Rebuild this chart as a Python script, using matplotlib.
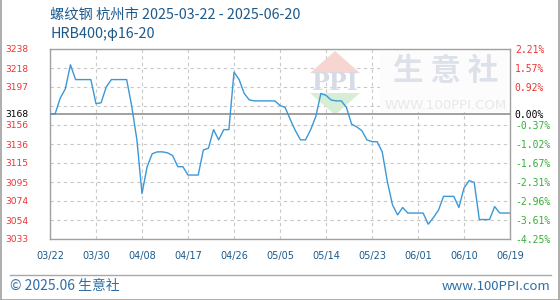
import matplotlib.pyplot as plt
from matplotlib.patches import Polygon, Rectangle
from matplotlib.lines import Line2D

W, H = 560, 300

# 数据: 距 03/22 的天数 与 价格
days = [0, 1, 2, 3, 4, 5, 6, 7, 8, 9, 10, 11, 12, 13, 14, 15, 16, 17, 18, 19,
        20, 21, 22, 23, 24, 25, 26, 27, 28, 29, 30, 31, 32, 33, 34, 35, 36, 37, 38, 39,
        40, 41, 42, 43, 44, 45, 46, 47, 48, 49, 50, 51, 52, 53, 54, 55, 56, 57, 58, 59,
        60, 61, 62, 63, 64, 65, 66, 67, 68, 69, 70, 71, 72, 73, 74, 75, 76, 77, 78, 79,
        80, 81, 82, 83, 84, 85, 86, 87, 88, 89, 90]
prices = [3168, 3168, 3185, 3195, 3221, 3205, 3205, 3205, 3205, 3179, 3180, 3197, 3205, 3205, 3205, 3205, 3176, 3140, 3082, 3111,
          3125, 3127, 3127, 3126, 3123, 3111, 3111, 3102, 3102, 3102, 3129, 3131, 3151, 3140, 3151, 3151, 3213, 3205, 3190, 3183,
          3182, 3182, 3182, 3182, 3182, 3177, 3175, 3162, 3150, 3140, 3140, 3151, 3165, 3190, 3188, 3183, 3182, 3182, 3175, 3157,
          3154, 3150, 3140, 3138, 3138, 3127, 3095, 3070, 3059, 3067, 3061, 3061, 3061, 3061, 3049, 3056, 3064, 3079, 3079, 3079,
          3067, 3088, 3096, 3094, 3054, 3054, 3054, 3068, 3061, 3061, 3061]

base = 3168
y_ticks = [3238, 3217.5, 3197, 3176.5, 3156, 3135.5, 3115, 3094.5, 3074, 3053.5, 3033]
left_labels = ['3238', '3218', '3197', '', '3156', '3136', '3115', '3095', '3074', '3054', '3033']
right_labels = ['2.21%', '1.57%', '0.92%', '', '-0.37%', '-1.02%', '-1.67%', '-2.31%', '-2.96%', '-3.61%', '-4.25%']
x_ticks = [0, 9, 18, 27, 36, 45, 54, 63, 72, 81, 90]
x_labels = ['03/22', '03/30', '04/08', '04/17', '04/26', '05/05', '05/14', '05/23', '06/01', '06/10', '06/19']

RED, GREEN, BLACK = '#ee3333', '#33b033', '#000000'
TXT_BLUE = '#1d5a8c'


def fx(x):
    return x / W


def fy(y):
    return 1 - y / H


def col(lab):
    if lab.startswith('-'):
        return GREEN
    if lab.startswith('0.00') or lab == str(base):
        return BLACK
    return RED


fig = plt.figure(figsize=(W / 100, H / 100), dpi=100)
fig.patch.set_facecolor('white')
ax = fig.add_axes([fx(50), fy(239), fx(460), 190 / H])
ax.set_xlim(0, 90)
ax.set_ylim(3033, 3238)

# 网格
for t in y_ticks:
    ax.axhline(t, color='#c8c8c8', lw=0.8, ls=(0, (3, 3)), zorder=1)
for t in x_ticks:
    ax.axvline(t, color='#c8c8c8', lw=0.8, ls=(0, (3, 3)), zorder=1)

# 水印 (在网格之上, 折线之下)
ft = fig.transFigure
ax.add_patch(Rectangle((fx(380), fy(112)), fx(128), 62 / H, transform=ft, clip_on=False,
                       facecolor='#fcfcfc', edgecolor='none', zorder=1.5))
ax.add_patch(Polygon([(fx(310), fy(73)), (fx(335), fy(51)), (fx(360), fy(73))], closed=True,
                     transform=ft, clip_on=False, facecolor='#f7d6d2', edgecolor='none', zorder=1.2))
ax.add_patch(Polygon([(fx(310), fy(93)), (fx(335), fy(115)), (fx(360), fy(93))], closed=True,
                     transform=ft, clip_on=False, facecolor='#d6eed6', edgecolor='none', zorder=1.2))
cjk = ['Noto Sans CJK SC', 'DejaVu Sans']
ax.text(fx(335), fy(83), 'PPI', fontsize=17, color='#d5dbe7', family='DejaVu Serif', transform=ft,
        ha='center', va='center', zorder=1.6, fontweight='bold')
ax.text(fx(446), fy(71), '生 意 社', fontsize=22, color='#dde1ea', family=cjk, transform=ft,
        ha='center', va='center', zorder=1.6, fontweight='bold')
ax.text(fx(446), fy(106), 'WWW.100PPI.COM', fontsize=9.5, color='#e8e8e8', transform=ft,
        ha='center', va='center', zorder=1.6)

ax.axhline(base, color='#999999', lw=1.3, zorder=2)
ax.plot(days, prices, color='#3a98d8', lw=1.0, zorder=4)

for s in ax.spines.values():
    s.set_color('#a0a0a0')
    s.set_linewidth(1.0)

ax.set_yticks(y_ticks + [base])
ax.set_yticklabels(left_labels + [str(base)], fontsize=6.6)
for lab in ax.get_yticklabels():
    lab.set_color(col(lab.get_text()))
ax.tick_params(axis='y', length=0, pad=15.5)

ax.set_xticks(x_ticks)
ax.set_xticklabels(x_labels, fontsize=7, color=TXT_BLUE)
ax.tick_params(axis='x', length=0, pad=9)

ax2 = ax.twinx()
ax2.set_ylim(3033, 3238)
ax2.set_yticks(y_ticks + [base])
ax2.set_yticklabels(right_labels + ['0.00%'], fontsize=7, family='DejaVu Sans Mono')
for lab in ax2.get_yticklabels():
    lab.set_color(col(lab.get_text()))
ax2.tick_params(axis='y', length=0, pad=3.5)
for s in ax2.spines.values():
    s.set_visible(False)

# 标题
fig.text(fx(50), fy(15), '螺纹钢 杭州市 2025-03-22 - 2025-06-20', fontsize=10.3, color=TXT_BLUE,
         family=cjk, ha='left', va='center')
fig.text(fx(50), fy(34), 'HRB400;φ16-20', fontsize=10.3, color=TXT_BLUE,
         family=cjk, ha='left', va='center')

# 页脚
fig.lines.append(Line2D([fx(10), fx(551)], [fy(275), fy(275)], transform=ft,
                        color='#a8a8a8', lw=1.0))
fig.text(fx(10), fy(286), '© 2025.06 生意社', fontsize=10, color='#2e6ea6',
         family=cjk, ha='left', va='center')
fig.text(fx(550), fy(286), 'www.100PPI.com', fontsize=9.5, color='#2e6ea6',
         family=cjk, ha='right', va='center')

# 外框
fig.patches.append(Rectangle((0.5 / W, 0.5 / H), 1 - 1.5 / W, 1.2, transform=ft,
                             facecolor='none', edgecolor='#a0a0a0', lw=1.2))

fig.savefig('out.png', dpi=100, facecolor='white')
